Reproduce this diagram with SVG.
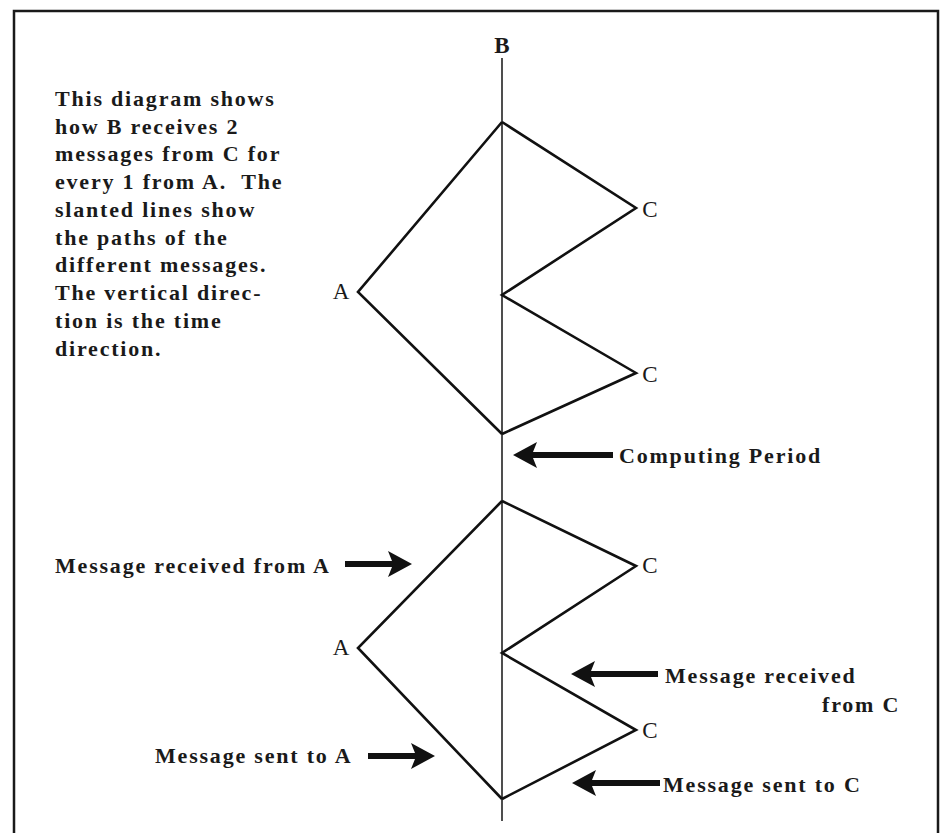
<svg xmlns="http://www.w3.org/2000/svg" width="943" height="833" viewBox="0 0 943 833">
<style>
  .frame{fill:none;stroke:#1a1a1a;stroke-width:2.5}
  .axis{fill:none;stroke:#222;stroke-width:1.6}
  .msg{fill:none;stroke:#111;stroke-width:2.6;stroke-linejoin:miter}
  .lbl{font-family:"Liberation Serif","Times New Roman",serif;font-size:23px;fill:#1a1a1a}
  .bold{font-family:"Liberation Serif","Times New Roman",serif;font-size:22px;font-weight:bold;fill:#1a1a1a;letter-spacing:1.8px}
  .arrow{fill:#111;stroke:none}
</style>
<rect width="943" height="833" fill="#fff"/>
<path class="frame" d="M14,833 L14,11 L938,11 L938,833"/>

<g id="connectors">
  <line class="axis" x1="502" y1="58" x2="502" y2="821"/>
  <polyline class="msg" points="502,122 358,292 502,434"/>
  <polyline class="msg" points="502,122 636,208 502,295 636,373 502,434"/>
  <polyline class="msg" points="502,501 358,648 502,799"/>
  <polyline class="msg" points="502,501 636,566 502,653 636,730 502,799"/>
</g>

<g id="node-B"><text class="lbl" x="502" y="53" text-anchor="middle" font-weight="bold">B</text></g>
<g id="node-A1"><text class="lbl" x="341" y="299" text-anchor="middle">A</text></g>
<g id="node-C1"><text class="lbl" x="650" y="217" text-anchor="middle">C</text></g>
<g id="node-C2"><text class="lbl" x="650" y="382" text-anchor="middle">C</text></g>
<g id="node-A2"><text class="lbl" x="341" y="655" text-anchor="middle">A</text></g>
<g id="node-C3"><text class="lbl" x="650" y="573" text-anchor="middle">C</text></g>
<g id="node-C4"><text class="lbl" x="650" y="738" text-anchor="middle">C</text></g>

<g id="note">
  <text class="bold" x="55" y="106">This diagram shows</text>
  <text class="bold" x="55" y="134">how B receives 2</text>
  <text class="bold" x="55" y="161">messages from C for</text>
  <text class="bold" x="55" y="189">every 1 from A.&#160; The</text>
  <text class="bold" x="55" y="217">slanted lines show</text>
  <text class="bold" x="55" y="245">the paths of the</text>
  <text class="bold" x="55" y="272">different messages.</text>
  <text class="bold" x="55" y="300">The vertical direc-</text>
  <text class="bold" x="55" y="328">tion is the time</text>
  <text class="bold" x="55" y="356">direction.</text>
</g>

<g id="label-computing">
  <path class="arrow" d="M513,455 L537,442 L533,452 L613,452 L613,458 L533,458 L537,468 Z"/>
  <text class="bold" x="619" y="463">Computing Period</text>
</g>
<g id="label-recvA">
  <path class="arrow" d="M412,564 L388,551 L392,561 L345,561 L345,567 L392,567 L388,577 Z"/>
  <text class="bold" x="55" y="573">Message received from A</text>
</g>
<g id="label-recvC">
  <path class="arrow" d="M571,674 L595,661 L591,671 L658,671 L658,677 L591,677 L595,687 Z"/>
  <text class="bold" x="665" y="683">Message received</text>
  <text class="bold" x="822" y="712">from C</text>
</g>
<g id="label-sentA">
  <path class="arrow" d="M435,756 L411,743 L415,753 L368,753 L368,759 L415,759 L411,769 Z"/>
  <text class="bold" x="155" y="763">Message sent to A</text>
</g>
<g id="label-sentC">
  <path class="arrow" d="M572,783 L596,770 L592,780 L660,780 L660,786 L592,786 L596,796 Z"/>
  <text class="bold" x="663" y="792">Message sent to C</text>
</g>
</svg>
